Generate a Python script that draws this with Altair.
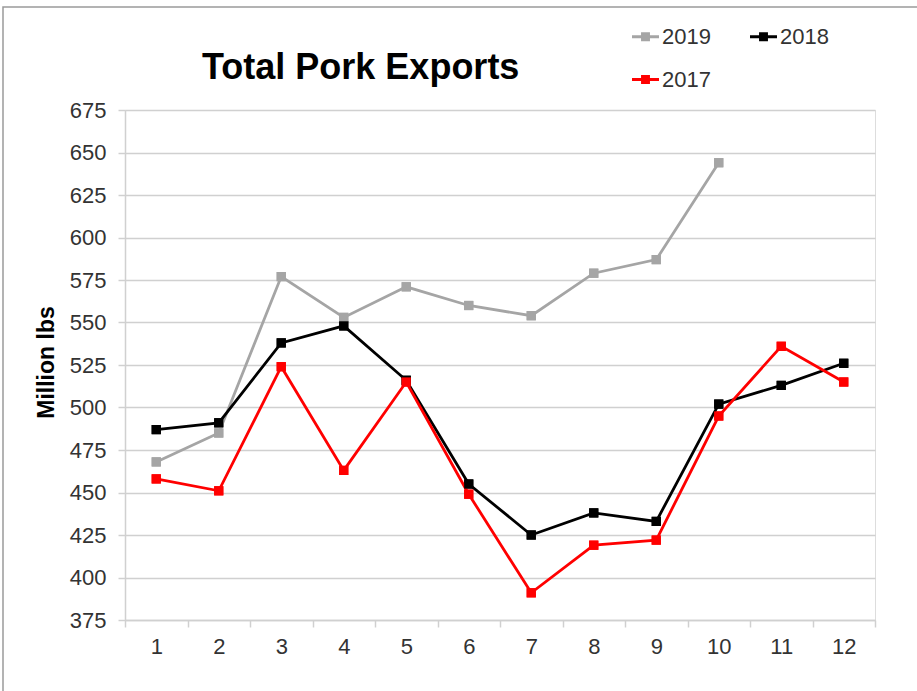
import altair as alt
import pandas as pd

months = list(range(1, 13))
series_order = ["2019", "2018", "2017"]
legend_order = ["2019", "2017", "2018"]
y2019 = [468, 485, 577, 553, 571, 560, 554, 579, 587, 644]
y2018 = [487, 491, 538, 548, 516, 455, 425, 438, 433, 502, 513, 526]
y2017 = [458, 451, 524, 463, 515, 449, 391, 419, 422, 495, 536, 515]
y_ticks = list(range(375, 676, 25))
series_colors = {"2019": "#a5a5a5", "2018": "#000000", "2017": "#ff0000"}

rows = []
for name, vals in zip(series_order, [y2019, y2018, y2017]):
    for m, v in zip(months, vals):
        rows.append({"month": str(m), "series": name, "value": v})
df = pd.DataFrame(rows)

FONT = "Liberation Sans"
GRID = "#d0d0d0"

x_enc = alt.X("month:O", sort=[str(m) for m in months],
              scale=alt.Scale(type="band", paddingInner=0, paddingOuter=0),
              axis=alt.Axis(title=None, labelAngle=0, tickBand="extent", grid=False,
                            domainColor=GRID, domainWidth=1.5, tickColor=GRID, tickWidth=1.5,
                            tickSize=7, labelFontSize=22, labelFont=FONT, labelColor="#333333",
                            labelPadding=9))
y_enc = alt.Y("value:Q", scale=alt.Scale(domain=[375, 675], nice=False, zero=False),
              axis=alt.Axis(title="Million lbs", values=y_ticks, grid=True, gridColor=GRID,
                            gridWidth=1.5, domainColor=GRID, domainWidth=1.5, tickColor=GRID,
                            tickWidth=1.5, tickSize=7, labelFontSize=22, labelFont=FONT,
                            labelColor="#333333", labelPadding=12, titleFont=FONT,
                            titleFontSize=23, titleFontWeight="bold", titleColor="#000000",
                            titleAngle=270, titleX=-79, titleY=252, titleAlign="center",
                            titleBaseline="middle"))

color_scale = alt.Scale(domain=legend_order, range=[series_colors[s] for s in legend_order])
legend = alt.Legend(title=None, orient="none", legendX=507, legendY=-87,
                    columns=2, columnPadding=39, rowPadding=18,
                    symbolType="M-1,-0.11H1V0.11H-1Z M-0.33,-0.33H0.33V0.33H-0.33Z",
                    symbolSize=729, symbolStrokeWidth=0, symbolOpacity=1,
                    labelFontSize=22, labelFont=FONT, labelColor="#333333",
                    labelOffset=3)
color_enc = alt.Color("series:N", scale=color_scale, legend=legend)

points_under = alt.Chart(df).mark_point(shape="square", filled=True, size=85, opacity=1).encode(
    x=x_enc, y=y_enc, color=color_enc,
)

lines = alt.Chart(df).mark_line(strokeWidth=2.8).encode(
    x=x_enc, y=y_enc, color=color_enc,
)

points = alt.Chart(df).mark_point(shape="square", filled=True, size=85, opacity=1).encode(
    x=x_enc, y=y_enc, color=color_enc,
)

border = alt.Chart(pd.DataFrame({"a": [0]})).mark_rect(
    fill=None, stroke="#9a9a9a", strokeWidth=1.5
).encode(x=alt.value(-122), x2=alt.value(820), y=alt.value(-103), y2=alt.value(700))

chart = alt.layer(points_under, border, lines, points).properties(
    width=750, height=510,
    title=alt.TitleParams("Total Pork Exports", font=FONT, fontSize=36, fontWeight="bold",
                          color="#000000", anchor="start", frame="group", dx=77, offset=0,
                          dy=109, baseline="alphabetic"),
    autosize=alt.AutoSizeParams(type="none"),
    padding={"left": 125, "top": 110, "right": 42, "bottom": 71},
).configure_view(stroke=None).configure(background="white")

chart.save("out.html", embed_options={"renderer": "svg", "actions": False})
